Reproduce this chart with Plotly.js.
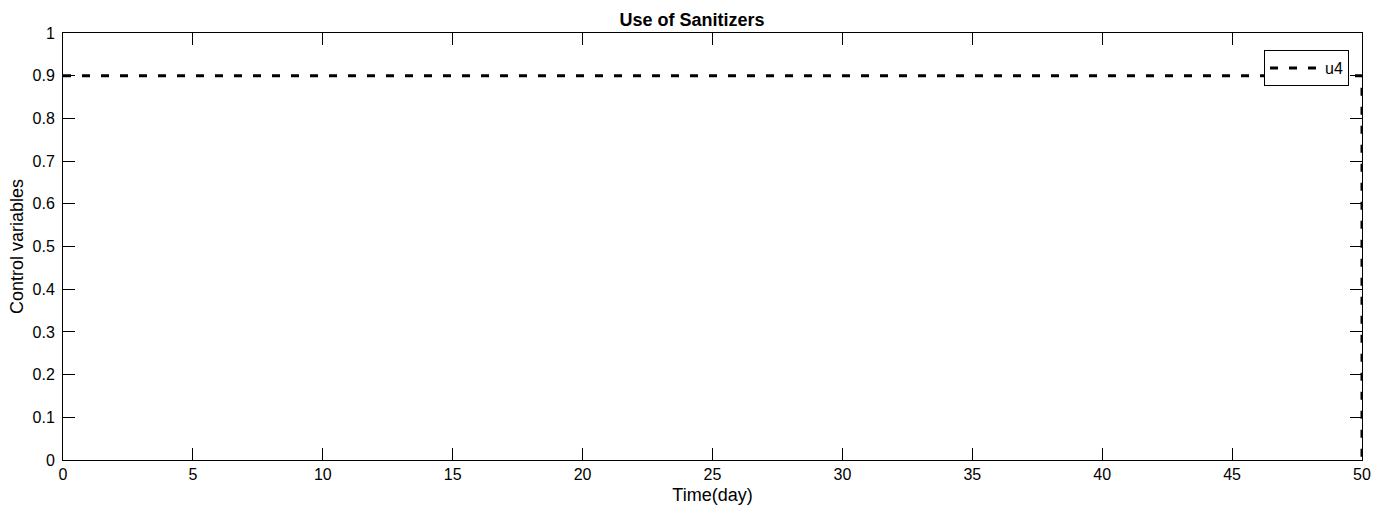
<!DOCTYPE html>
<html>
<head>
<meta charset="utf-8">
<script src="https://cdn.plot.ly/plotly-3.0.1.min.js"></script>
<style>html,body{margin:0;padding:0;background:#fff}#chart{width:1384px;height:513px}</style>
</head>
<body>
<div id="chart"></div>
<script>
const timeDays = [0, 50, 50];
const u4 = [0.9, 0.9, 0];
const xTicks = [0, 5, 10, 15, 20, 25, 30, 35, 40, 45, 50];
const yTicks = [0, 0.1, 0.2, 0.3, 0.4, 0.5, 0.6, 0.7, 0.8, 0.9, 1];
const yTickText = ['0', '0.1', '0.2', '0.3', '0.4', '0.5', '0.6', '0.7', '0.8', '0.9', '1'];

const font = {family: 'Liberation Sans, Arial, sans-serif', color: '#000'};

Plotly.newPlot('chart', [{
  x: timeDays, y: u4, mode: 'lines', name: 'u4',
  line: {color: '#000', width: 3, dash: '8px,11px'}
}], {
  width: 1384, height: 513,
  margin: {l: 63, r: 22, t: 33, b: 53},
  paper_bgcolor: '#fff', plot_bgcolor: '#fff',
  font: Object.assign({size: 16}, font),
  title: {text: 'Use of Sanitizers', font: Object.assign({size: 18, weight: 'bold'}, font), x: 0.5, xanchor: 'center', y: 0.961, yanchor: 'middle'},
  xaxis: {
    range: [0, 50], tickvals: xTicks, ticktext: xTicks.map(String),
    ticks: 'inside', ticklen: 12, tickwidth: 1, tickcolor: '#000',
    showline: true, linecolor: '#000', linewidth: 1, mirror: 'ticks',
    showgrid: false, zeroline: false,
    tickfont: Object.assign({size: 16}, font),
    title: {text: 'Time(day)', font: Object.assign({size: 18}, font), standoff: 6}
  },
  yaxis: {
    range: [0, 1], tickvals: yTicks, ticktext: yTickText,
    ticks: 'inside', ticklen: 12, tickwidth: 1, tickcolor: '#000',
    showline: true, linecolor: '#000', linewidth: 1, mirror: 'ticks',
    showgrid: false, zeroline: false,
    ticklabelstandoff: 4,
    tickfont: Object.assign({size: 16}, font),
    title: {text: 'Control variables', font: Object.assign({size: 18}, font), standoff: 4}
  },
  showlegend: true,
  legend: {
    x: 0.99, xanchor: 'right', y: 0.96, yanchor: 'top',
    bgcolor: '#fff', bordercolor: '#000', borderwidth: 1,
    itemwidth: 50,
    font: Object.assign({size: 16}, font)
  }
}, {displayModeBar: false});
</script>
</body>
</html>
